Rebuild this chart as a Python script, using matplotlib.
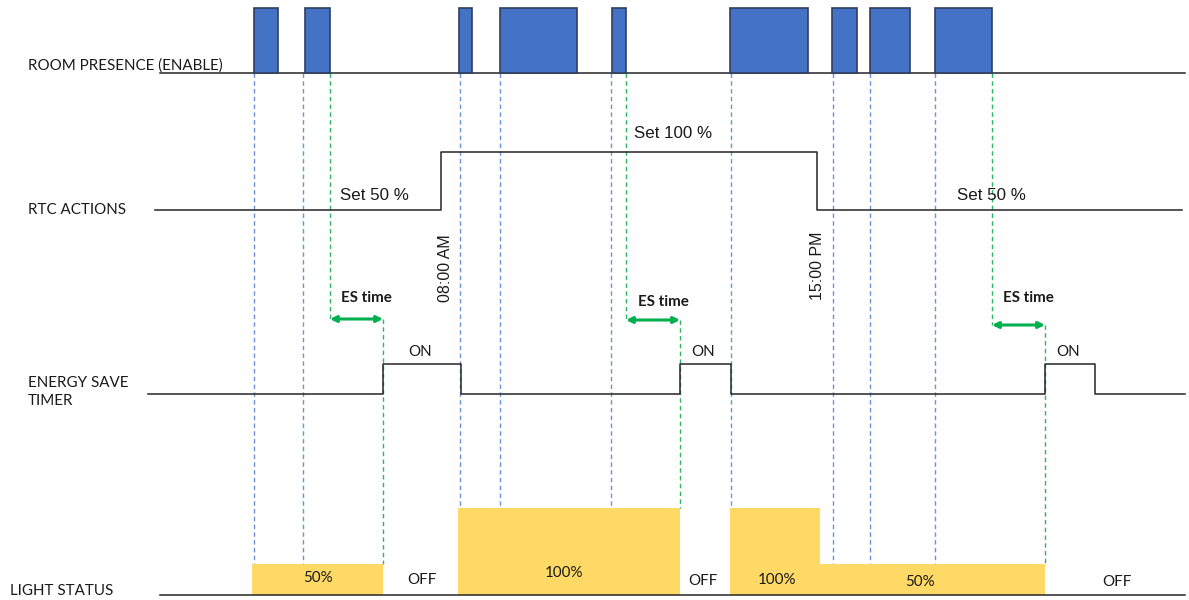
import matplotlib
matplotlib.use("Agg")
import matplotlib.pyplot as plt
from matplotlib.patches import Rectangle, FancyArrowPatch

# ---------------- data (time units along the diagram) ----------------
row_labels = ["ROOM PRESENCE (ENABLE)", "RTC ACTIONS", "ENERGY SAVE\nTIMER", "LIGHT STATUS"]

presence_start = [254, 305, 459, 500, 612, 730, 832, 870, 935]
presence_end   = [278, 330, 472, 577, 626, 808, 857, 910, 992]

rtc_switch_times = [441, 817]
rtc_switch_labels = ["08:00 AM", "15:00 PM"]
rtc_texts = ["Set 50 %", "Set 100 %", "Set 50 %"]
rtc_text_x = [374, 673, 991]

es_time_start = [330, 626, 992]
es_time_end   = [383, 680, 1045]
es_on_start = [383, 680, 1045]
es_on_end   = [461, 731, 1095]

light_start  = [252, 458, 730, 820]
light_end    = [383, 680, 820, 1045]
light_levels = [50, 100, 100, 50]
light_labels = ["50%", "100%", "100%", "50%"]
off_label_x = [422, 703, 1117]

# ---------------- layout / style ----------------
W, H = 1189, 600
fig = plt.figure(figsize=(W / 100, H / 100), dpi=100)
ax = fig.add_axes([0, 0, 1, 1])
ax.set_xlim(0, W)
ax.set_ylim(H, 0)
ax.axis("off")

calibri = ["Lato", "DejaVu Sans"]
arial = ["Liberation Sans", "DejaVu Sans"]
LINE = "#262626"
TXT = "#1a1a1a"
BLUE_FILL = "#4472C4"
BLUE_EDGE = "#2E3F60"
BLUE_DASH = "#6B93D6"
GREEN_DASH = "#2DB563"
GREEN = "#00B050"
YELLOW = "#FFD966"

y_pres_base, y_pres_top = 73, 8
y_rtc_low, y_rtc_high = 210, 152
y_es_low, y_es_high = 394, 364
y_light_base = 595
level_h = {50: 31, 100: 87}
dash = (0, (3.2, 2.4))
fs = 10.9

# row labels
ax.text(28, 66, row_labels[0], fontfamily=calibri, fontsize=fs, va="center", ha="left", color=TXT)
ax.text(28, 210, row_labels[1], fontfamily=calibri, fontsize=fs, va="center", ha="left", color=TXT)
ax.text(28, 392, row_labels[2], fontfamily=calibri, fontsize=fs, va="center", ha="left", color=TXT,
        linespacing=1.35)
ax.text(10, 591, row_labels[3], fontfamily=calibri, fontsize=fs, va="center", ha="left", color=TXT)

# ---- presence row ----
ax.plot([160, 1185], [y_pres_base, y_pres_base], color=LINE, lw=1.1, zorder=3)
for s, e in zip(presence_start, presence_end):
    ax.add_patch(Rectangle((s, y_pres_top), e - s, y_pres_base - y_pres_top,
                           facecolor=BLUE_FILL, edgecolor=BLUE_EDGE, lw=1.2, zorder=4))

# ---- RTC row ----
t0, t1 = rtc_switch_times
ax.plot([155, t0, t0, t1, t1, 1182],
        [y_rtc_low, y_rtc_low, y_rtc_high, y_rtc_high, y_rtc_low, y_rtc_low],
        color=LINE, lw=1.1, zorder=3)
ax.text(rtc_text_x[0], 195, rtc_texts[0], fontfamily=arial, fontsize=12.2, ha="center", va="center", color=TXT)
ax.text(rtc_text_x[1], 134, rtc_texts[1], fontfamily=arial, fontsize=12.2, ha="center", va="center", color=TXT)
ax.text(rtc_text_x[2], 196, rtc_texts[2], fontfamily=arial, fontsize=12.2, ha="center", va="center", color=TXT)
ax.text(445, 268, rtc_switch_labels[0], fontfamily=arial, fontsize=11.5, rotation=90, ha="center", va="center", color=TXT)
ax.text(817, 266, rtc_switch_labels[1], fontfamily=arial, fontsize=11.5, rotation=90, ha="center", va="center", color=TXT)

# ---- energy save timer row ----
xs, ys = [148], [y_es_low]
for s, e in zip(es_on_start, es_on_end):
    xs += [s, s, e, e]
    ys += [y_es_low, y_es_high, y_es_high, y_es_low]
xs.append(1185)
ys.append(y_es_low)
ax.plot(xs, ys, color=LINE, lw=1.1, zorder=3)
for s, e in zip(es_on_start, es_on_end):
    ax.text((s + e) / 2 - 2, 352, "ON", fontfamily=calibri, fontsize=fs, ha="center", va="center", color=TXT)

# ES time arrows
arrow_y = [319, 320, 325]
label_y = [298, 302, 298]
for s, e, yy, ly in zip(es_time_start, es_time_end, arrow_y, label_y):
    ax.add_patch(FancyArrowPatch((s, yy), (e, yy), arrowstyle="<|-|>", mutation_scale=9,
                                 color=GREEN, lw=2.2, zorder=5, shrinkA=0, shrinkB=0))
    ax.text((s + e) / 2 + 10, ly, "ES time", fontfamily=calibri, fontsize=fs, fontweight="bold",
            ha="center", va="center", color=TXT)

# ---- light status row ----
ax.plot([160, 1185], [y_light_base, y_light_base], color=LINE, lw=1.1, zorder=3)
for s, e, lv in zip(light_start, light_end, light_levels):
    h = level_h[lv]
    ax.add_patch(Rectangle((s, y_light_base - h), e - s, h, facecolor=YELLOW, edgecolor="none", zorder=2))
light_label_pos = [(318, 578), (564, 573), (777, 580), (920, 582)]
for (lx, ly), lb in zip(light_label_pos, light_labels):
    ax.text(lx, ly, lb, fontfamily=calibri, fontsize=fs, ha="center", va="center", color=TXT, zorder=6)
for ox, oy in zip(off_label_x, [580, 581, 582]):
    ax.text(ox, oy, "OFF", fontfamily=calibri, fontsize=fs, ha="center", va="center", color=TXT)

# ---- dashed guide lines ----
def light_top_at(x):
    for s, e, lv in zip(light_start, light_end, light_levels):
        if s <= x <= e:
            return y_light_base - level_h[lv]
    return y_light_base

blue_guides = [254, 303, 460, 500, 611, 731, 833, 870, 935]
for x in blue_guides:
    ax.plot([x, x], [y_pres_base, light_top_at(x + 0.5)], color=BLUE_DASH, lw=1.0, ls=dash, zorder=1)

for s, e, yy in zip(es_time_start, es_time_end, arrow_y):
    ax.plot([s, s], [y_pres_base, yy], color=GREEN_DASH, lw=1.0, ls=dash, zorder=1)
    ax.plot([e, e], [yy, light_top_at(e - 0.5)], color=GREEN_DASH, lw=1.0, ls=dash, zorder=1)

fig.savefig("out.png", dpi=100)
